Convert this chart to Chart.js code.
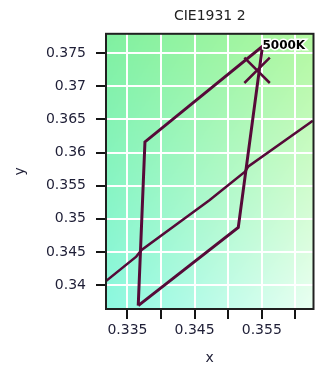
<!DOCTYPE html>
<html><head><meta charset="utf-8">
<script src="https://cdn.jsdelivr.net/npm/chart.js@4/dist/chart.umd.min.js"></script>
<style>html,body{margin:0;padding:0;background:#fff;}canvas{display:block;}</style>
</head><body>
<canvas id="c" width="334" height="369"></canvas>
<script>
const chartTitle = 'CIE1931 2';
const xAxisTitle = 'x';
const yAxisTitle = 'y';
const xTickValues = [0.335, 0.340, 0.345, 0.350, 0.355, 0.360];
const xTickLabels = ['0.335', '', '0.345', '', '0.355', ''];
const yTickValues = [0.340, 0.345, 0.350, 0.355, 0.360, 0.365, 0.370, 0.375];
const yTickLabels = ['0.34', '0.345', '0.35', '0.355', '0.36', '0.365', '0.37', '0.375'];
const xRange = [0.3318, 0.3627];
const yRange = [0.3364, 0.3779];
const quadX = [0.3366, 0.3376, 0.3551, 0.3515, 0.3366];
const quadY = [0.3369, 0.3616, 0.3760, 0.3487, 0.3369];
const locusX = [0.3318, 0.3363, 0.3371, 0.3472, 0.3525, 0.3530, 0.3626];
const locusY = [0.3406, 0.3443, 0.3453, 0.3528, 0.3571, 0.3579, 0.3648];
const markerX = [0.3543];
const markerY = [0.3724];
const cctLabel = '5000K';

const lineColor = '#560a38';
const toPts = (xs, ys) => xs.map((x, i) => ({x: x, y: ys[i]}));

const corners = {tl: [128, 240, 160], tr: [178, 248, 160], bl: [140, 248, 224], br: [234, 255, 242]};
const bgPlugin = {
  id: 'bg',
  beforeDraw(chart) {
    const {ctx, chartArea: a} = chart;
    const L = Math.round(a.left), T = Math.round(a.top);
    const w = Math.round(a.right) - L, h = Math.round(a.bottom) - T;
    const img = ctx.createImageData(w, h);
    for (let y = 0; y < h; y++) {
      const v = y / (h - 1);
      for (let x = 0; x < w; x++) {
        const u = x / (w - 1);
        const k = (y * w + x) * 4;
        for (let c = 0; c < 3; c++) {
          img.data[k + c] = corners.tl[c] * (1 - u) * (1 - v) + corners.tr[c] * u * (1 - v) +
                            corners.bl[c] * (1 - u) * v + corners.br[c] * u * v;
        }
        img.data[k + 3] = 255;
      }
    }
    ctx.putImageData(img, L, T);
  }
};
const framePlugin = {
  id: 'frame',
  afterDraw(chart) {
    const {ctx, chartArea: a, scales} = chart;
    ctx.save();
    const px = scales.x.getPixelForValue(quadX[2]);
    const py = scales.y.getPixelForValue(quadY[2]);
    ctx.font = 'bold 12px "DejaVu Sans"';
    ctx.textAlign = 'left';
    ctx.textBaseline = 'middle';
    ctx.lineWidth = 3;
    ctx.strokeStyle = '#ffffff';
    ctx.strokeText(cctLabel, px, py - 1);
    ctx.fillStyle = '#000000';
    ctx.fillText(cctLabel, px, py - 1);
    ctx.strokeStyle = '#202020';
    ctx.lineWidth = 2;
    ctx.strokeRect(a.left, a.top, a.right - a.left, a.bottom - a.top);
    ctx.restore();
  }
};

const tickFont = {family: 'DejaVu Sans', size: 14};
new Chart(document.getElementById('c'), {
  type: 'scatter',
  data: {
    datasets: [
      {data: toPts(quadX, quadY), showLine: true, borderColor: lineColor, borderWidth: 3, pointRadius: 0, fill: false, tension: 0},
      {data: toPts(locusX, locusY), showLine: true, borderColor: lineColor, borderWidth: 2.5, pointRadius: 0, fill: false, tension: 0},
      {data: toPts(markerX, markerY), showLine: false, pointStyle: 'crossRot', pointRadius: 18, borderColor: lineColor, borderWidth: 2.5, backgroundColor: lineColor}
    ]
  },
  options: {
    responsive: false,
    animation: false,
    layout: {padding: {left: 8, right: 20, top: 0, bottom: 0}},
    plugins: {
      legend: {display: false},
      tooltip: {enabled: false},
      title: {display: true, text: chartTitle, fullSize: false, color: '#222',
              font: {family: 'DejaVu Sans', size: 14, weight: 'normal'}, padding: {top: 8, bottom: 9}}
    },
    scales: {
      x: {
        type: 'linear', min: xRange[0], max: xRange[1],
        afterBuildTicks: s => { s.ticks = xTickValues.map(v => ({value: v})); },
        afterFit: s => { s.height = 60; },
        ticks: {callback: (v, i) => xTickLabels[i], font: tickFont, color: '#1e1e36', padding: 3, maxRotation: 0, autoSkip: false},
        grid: {color: '#ffffff', lineWidth: 2, tickColor: '#151515', tickWidth: 2, tickLength: 10},
        border: {display: false},
        title: {display: true, text: xAxisTitle, font: tickFont, color: '#1e1e36', padding: {top: 0, bottom: 2}}
      },
      y: {
        type: 'linear', min: yRange[0], max: yRange[1],
        afterBuildTicks: s => { s.ticks = yTickValues.map(v => ({value: v})); },
        afterFit: s => { s.width = 98; },
        ticks: {callback: (v, i) => yTickLabels[i], font: tickFont, color: '#1e1e36', padding: 10, autoSkip: false},
        grid: {color: '#ffffff', lineWidth: 2, tickColor: '#151515', tickWidth: 2, tickLength: 10},
        border: {display: false},
        title: {display: true, text: yAxisTitle, font: tickFont, color: '#1e1e36', padding: {top: 4, bottom: 4}}
      }
    }
  },
  plugins: [bgPlugin, framePlugin]
});
</script>
</body></html>
